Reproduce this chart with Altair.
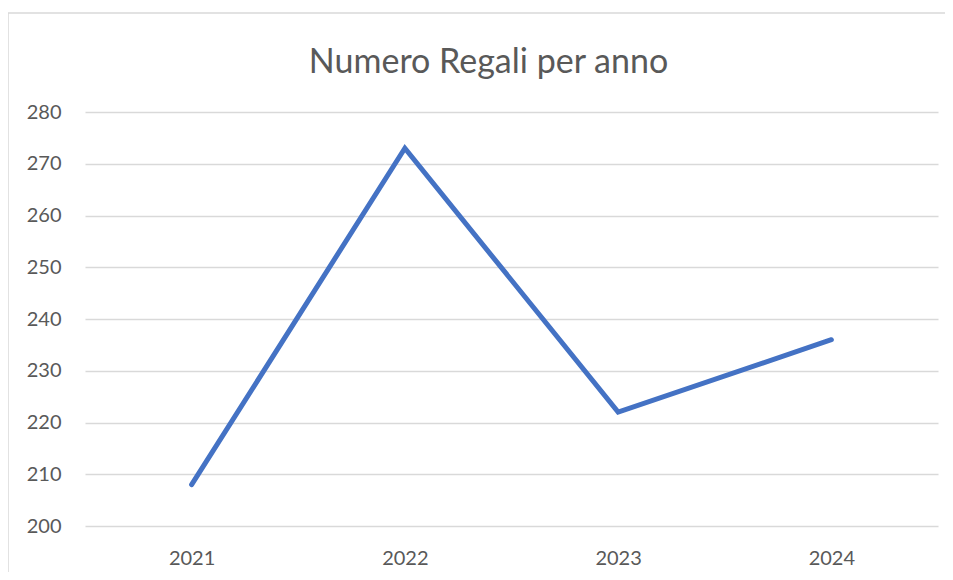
import altair as alt
import pandas as pd

years = ["2021", "2022", "2023", "2024"]
gifts = [208, 273, 222, 236]
y_ticks = [200, 210, 220, 230, 240, 250, 260, 270, 280]

df = pd.DataFrame({"anno": years, "regali": gifts})

FONT = "Lato"
GREY = "#595959"
BORDER = "#d9d9d9"

one = pd.DataFrame({"k": [0]})
border_left = alt.Chart(one).mark_rule(stroke=BORDER, strokeWidth=1.5).encode(
    x=alt.value(-77), y=alt.value(-99), y2=alt.value(480)
)
border_top = alt.Chart(one).mark_rule(stroke=BORDER, strokeWidth=1.5).encode(
    x=alt.value(-77), x2=alt.value(880), y=alt.value(-99)
)

line = alt.Chart(df).mark_line(
    color="#4472C4", strokeWidth=5, strokeCap="round", strokeJoin="miter"
).encode(
    x=alt.X("anno:O", sort=years, title=None,
            scale=alt.Scale(paddingInner=0, paddingOuter=0.5, align=0.5),
            axis=alt.Axis(labelAngle=0, ticks=False, domain=False, grid=False,
                          labelPadding=22, labelFontSize=20, labelColor=GREY,
                          labelFont=FONT)),
    y=alt.Y("regali:Q", title=None,
            scale=alt.Scale(domain=[200, 280], nice=False, zero=False),
            axis=alt.Axis(values=y_ticks, ticks=False, domain=False,
                          labelPadding=24, labelFontSize=20, labelColor=GREY,
                          labelFont=FONT, gridColor="#d9d9d9", gridWidth=1.5)),
)

chart = alt.layer(border_left, border_top, line).properties(
    width=853, height=414,
    padding={"left": 77, "top": 104, "right": 7, "bottom": 46},
    autosize=alt.AutoSizeParams(type="none"),
    title=alt.TitleParams("Numero Regali per anno", font=FONT, fontSize=34,
                          fontWeight="normal", color=GREY, anchor="middle",
                          offset=40, dy=108, dx=-23),
).configure_view(stroke=None)

chart.save("out.html", embed_options={"renderer": "svg", "actions": False})
